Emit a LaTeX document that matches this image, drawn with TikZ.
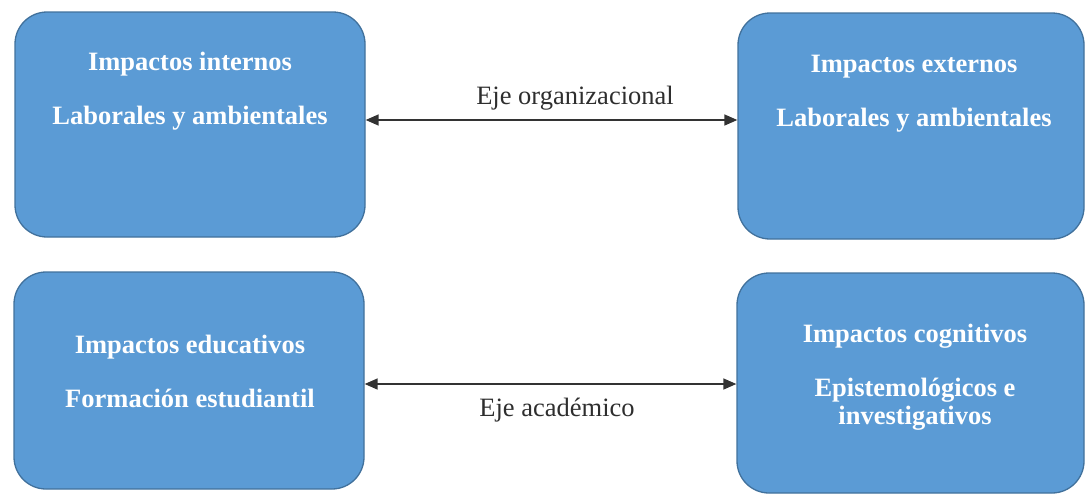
\documentclass[tikz,border=0pt]{standalone}
\usepackage{fontspec}
\setmainfont{Liberation Serif}
\usetikzlibrary{arrows.meta}
\definecolor{boxfill}{HTML}{5B9BD5}
\definecolor{boxline}{HTML}{41719C}
\definecolor{labgray}{HTML}{2E2E2E}
\definecolor{arrgray}{HTML}{333333}
\tikzset{
  impbox/.style={draw=boxline, line width=1.3pt, fill=boxfill, rounded corners=32pt, inner sep=0pt},
  imptxt/.style={text=white, font=\fontsize{26.5}{28}\selectfont\bfseries, align=center, inner sep=0pt},
  axlabel/.style={text=labgray, font=\fontsize{26.5}{30}\selectfont, inner sep=0pt},
  axarrow/.style={draw=arrgray, line width=1.4pt, {Triangle[length=13pt,width=11pt]}-{Triangle[length=13pt,width=11pt]}}
}
\begin{document}
\begin{tikzpicture}[x=1pt,y=-1pt]
\useasboundingbox (0,0) rectangle (1086,498);
\node[impbox, minimum width=350pt, minimum height=225pt] (tl) at (190,124.5) {};
\node[impbox, minimum width=346pt, minimum height=226pt] (tr) at (911,126) {};
\node[impbox, minimum width=350pt, minimum height=217pt] (bl) at (189,380.5) {};
\node[impbox, minimum width=347pt, minimum height=220pt] (br) at (910.5,383) {};
\node[imptxt] (tltxt) at (190,91) {Impactos internos\\[26pt]Laborales y ambientales};
\node[imptxt] (trtxt) at (914,93.5) {Impactos externos\\[26pt]Laborales y ambientales};
\node[imptxt] (bltxt) at (190,371) {Impactos educativos\\[26pt]Formación estudiantil};
\node[imptxt] (brtxt) at (915,377) {Impactos cognitivos\\[26pt]Epistemológicos e\\investigativos};
\coordinate (ya) at (0,120);
\coordinate (yb) at (0,384);
\draw[axarrow] (tl.east |- ya) -- (tr.west |- ya);
\draw[axarrow] (bl.east |- yb) -- (br.west |- yb);
\node[axlabel] (lab1) at (575,98) {Eje organizacional};
\node[axlabel] (lab2) at (557,410) {Eje académico};
\end{tikzpicture}
\end{document}
